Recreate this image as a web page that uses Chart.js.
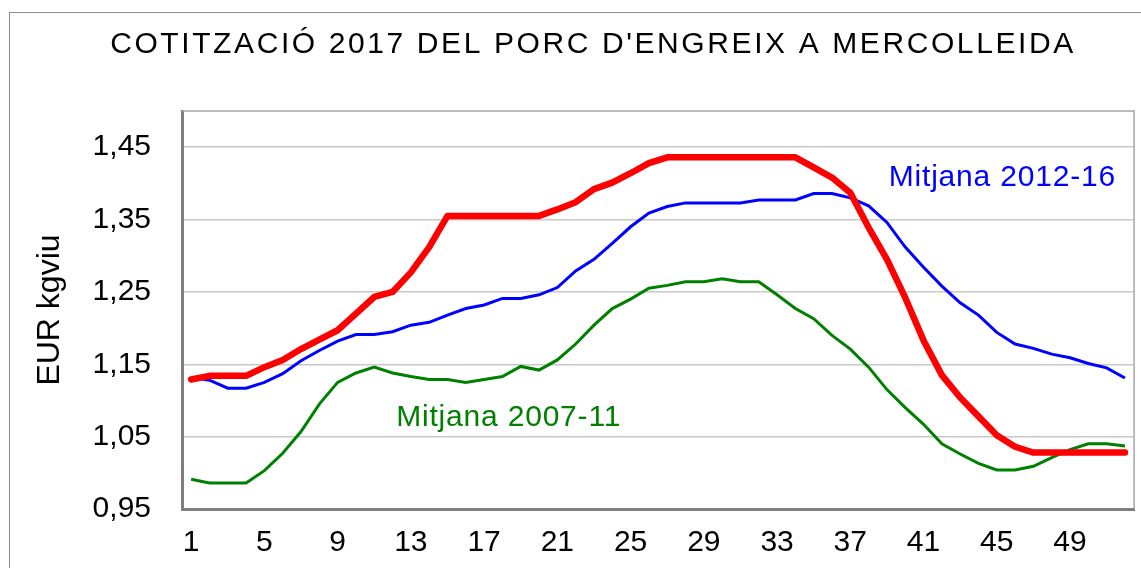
<!DOCTYPE html>
<html>
<head>
<meta charset="utf-8">
<script src="https://cdn.jsdelivr.net/npm/chart.js@4"></script>
<style>
    body { margin: 0; background: #fff; }
    #wrap { width: 1141px; height: 568px; }
</style>
</head>
<body>
<div id="wrap"><canvas id="porcChart" width="1141" height="568"></canvas></div>
<script>
// Setmanes
const weeks = ['1','2','3','4','5','6','7','8','9','10','11','12','13','14','15','16','17','18','19','20',
    '21','22','23','24','25','26','27','28','29','30','31','32','33','34','35','36','37','38','39','40',
    '41','42','43','44','45','46','47','48','49','50','51','52'];

// Cotitzacio 2017 (EUR/kg viu)
const price2017 = [1.129, 1.134, 1.134, 1.134, 1.146, 1.156, 1.171, 1.184, 1.197, 1.220,
    1.243, 1.250, 1.277, 1.312, 1.355, 1.355, 1.355, 1.355, 1.355, 1.355,
    1.364, 1.374, 1.392, 1.401, 1.414, 1.428, 1.436, 1.436, 1.436, 1.436,
    1.436, 1.436, 1.436, 1.436, 1.422, 1.408, 1.387, 1.339, 1.295, 1.242,
    1.183, 1.135, 1.104, 1.078, 1.052, 1.036, 1.028, 1.028, 1.028, 1.028,
    1.028, 1.028];

const avg2012_16 = [1.132, 1.128, 1.117, 1.117, 1.125, 1.137, 1.155, 1.169, 1.182, 1.191,
    1.191, 1.195, 1.204, 1.208, 1.218, 1.227, 1.232, 1.241, 1.241, 1.246,
    1.256, 1.279, 1.295, 1.317, 1.340, 1.359, 1.368, 1.373, 1.373, 1.373,
    1.373, 1.377, 1.377, 1.377, 1.386, 1.386, 1.380, 1.369, 1.346, 1.312,
    1.284, 1.258, 1.235, 1.218, 1.194, 1.178, 1.172, 1.164, 1.159, 1.151,
    1.145, 1.131];

const avg2007_11 = [0.991, 0.986, 0.986, 0.986, 1.003, 1.027, 1.057, 1.095, 1.125, 1.138,
    1.146, 1.138, 1.133, 1.129, 1.129, 1.125, 1.129, 1.133, 1.147, 1.142,
    1.156, 1.178, 1.204, 1.227, 1.240, 1.255, 1.259, 1.264, 1.264, 1.268,
    1.264, 1.264, 1.246, 1.227, 1.213, 1.190, 1.171, 1.146, 1.115, 1.090,
    1.067, 1.040, 1.026, 1.013, 1.004, 1.004, 1.009, 1.021, 1.032, 1.040,
    1.040, 1.037];

const titleText = "COTITZACIÓ 2017 DEL PORC D'ENGREIX A MERCOLLEIDA";
const yTitle = 'EUR kgviu';

// etiquetes dins el grafic: text, index de setmana, valor
const noteTexts = ['Mitjana 2012-16', 'Mitjana 2007-11'];
const noteWeek = [38.1, 11.2];
const noteValue = [1.4075, 1.0757];
const noteColors = ['#0000ff', '#008000'];

const fontFam = "'Liberation Sans', Arial, sans-serif";

const frameAndText = {
    id: 'frameAndText',
    beforeDraw(chart) {
        const ctx = chart.ctx;
        ctx.save();
        ctx.fillStyle = '#fff';
        ctx.fillRect(0, 0, chart.width, chart.height);
        // marc exterior
        ctx.strokeStyle = '#8c8c8c';
        ctx.lineWidth = 1;
        ctx.strokeRect(9.5, 12.5, chart.width + 20, chart.height + 20);
        ctx.restore();
    },
    afterDraw(chart) {
        const ctx = chart.ctx;
        const area = chart.chartArea;
        ctx.save();
        // vora superior i dreta de l'area
        ctx.strokeStyle = '#a6a6a6';
        ctx.lineWidth = 1.5;
        ctx.beginPath();
        ctx.moveTo(area.left, area.top);
        ctx.lineTo(area.right, area.top);
        ctx.lineTo(area.right, area.bottom);
        ctx.stroke();

        ctx.fillStyle = '#000';
        ctx.font = '30px ' + fontFam;
        ctx.letterSpacing = '2.6px';
        ctx.textAlign = 'center';
        ctx.textBaseline = 'middle';
        ctx.fillText(titleText, 593, 45);

        ctx.letterSpacing = '0.8px';
        ctx.textAlign = 'left';
        ctx.font = '30px ' + fontFam;
        const xs = chart.scales.x, ys = chart.scales.y;
        noteTexts.forEach((t, i) => {
            const step = xs.getPixelForValue(1) - xs.getPixelForValue(0);
            const px = xs.getPixelForValue(0) + noteWeek[i] * step;
            ctx.fillStyle = noteColors[i];
            ctx.fillText(t, px, ys.getPixelForValue(noteValue[i]));
        });
        ctx.restore();
    }
};

const porcChart = new Chart(document.getElementById('porcChart'), {
    type: 'line',
    data: {
        labels: weeks,
        datasets: [
            {
                label: '2017',
                data: price2017,
                borderColor: '#ff0000',
                borderWidth: 6.5,
                borderCapStyle: 'round',
                borderJoinStyle: 'round',
                pointRadius: 0,
                tension: 0
            },
            {
                label: 'Mitjana 2012-16',
                data: avg2012_16,
                borderColor: '#0000ff',
                borderWidth: 3,
                pointRadius: 0,
                tension: 0
            },
            {
                label: 'Mitjana 2007-11',
                data: avg2007_11,
                borderColor: '#008000',
                borderWidth: 3,
                pointRadius: 0,
                tension: 0
            }
        ]
    },
    options: {
        responsive: false,
        animation: false,
        devicePixelRatio: 1,
        layout: { padding: { top: 111, right: 5, bottom: 0, left: 0 } },
        plugins: {
            legend: { display: false },
            title: { display: false },
            tooltip: { enabled: false }
        },
        scales: {
            x: {
                offset: true,
                grid: { display: false, drawTicks: false },
                border: { color: '#7f7f7f', width: 3 },
                ticks: {
                    autoSkip: false,
                    maxRotation: 0,
                    padding: 16,
                    color: '#000',
                    font: { family: fontFam, size: 30 },
                    callback: (val, idx) => idx % 4 === 0 ? weeks[idx] : ''
                },
                afterFit: (scale) => { scale.height = 59; }
            },
            y: {
                min: 0.95,
                max: 1.5,
                grid: { color: '#c8c8c8', lineWidth: 1.5, drawTicks: false },
                border: { color: '#7f7f7f', width: 3 },
                title: {
                    display: true,
                    text: yTitle,
                    color: '#000',
                    font: { family: fontFam, size: 32 },
                    padding: { top: 31, bottom: 0 }
                },
                ticks: {
                    stepSize: 0.05,
                    padding: 31,
                    color: '#000',
                    font: { family: fontFam, size: 30 },
                    callback: (v) => Math.round(v * 100) % 10 === 5 ? v.toFixed(2).replace('.', ',') : ''
                },
                afterFit: (scale) => { scale.width = 182; }
            }
        }
    },
    plugins: [frameAndText]
});
</script>
</body>
</html>
